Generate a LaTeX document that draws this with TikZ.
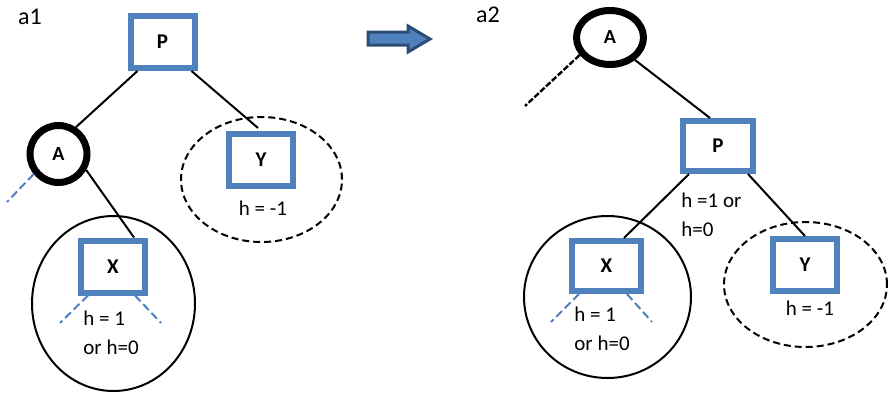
\documentclass[tikz,border=0pt]{standalone}
\usepackage{fontspec}
\setmainfont{Carlito}
\usepackage{tikz}
\usetikzlibrary{shapes.geometric}
\definecolor{cBox}{HTML}{4F81BD}
\definecolor{cShift}{HTML}{2C4D75}
\tikzset{
  keybox/.style={draw=cBox, line width=3pt, fill=white, inner sep=0pt,
                 minimum width=32pt, minimum height=26pt,
                 font=\bfseries\fontsize{10.5}{12}\selectfont},
  pivot/.style={draw, line width=3.5pt, fill=white, inner sep=0pt,
                font=\bfseries\fontsize{10}{12}\selectfont},
  hull/.style={draw, ellipse, line width=1pt, inner sep=0pt},
  maybe/.style={hull, dash pattern=on 3.5pt off 2pt},
  edge/.style={line width=1pt},
  stub/.style={draw=cBox, line width=1pt, dash pattern=on 4pt off 2pt},
  hlbl/.style={font=\fontsize{10.5}{14.5}\selectfont, align=left, inner sep=0pt},
  tag/.style={font=\fontsize{12}{14}\selectfont, inner sep=0pt},
}
\begin{document}
\begin{tikzpicture}[x=0.5pt, y=-0.5pt]
  \useasboundingbox (0,0) rectangle (896,402);
  % before the rotation
  \node[tag] (a1) at (30,17) {a1};
  \node[maybe, minimum width=80.5pt, minimum height=62.5pt] (hullYL) at (261.5,179.5) {};
  \node[hull, minimum width=81.5pt, minimum height=87.5pt] (hullXL) at (113.5,303.5) {};
  \node[keybox] (pL) at (162.5,42) {P};
  \node[pivot, circle, minimum size=28.5pt] (aL) at (58.5,154) {A};
  \node[keybox] (yL) at (261,160) {Y};
  \node[keybox] (xL) at (113,266.5) {X};
  \coordinate (aLstub) at (7,202);
  \coordinate (xLstubl) at (60,323);
  \coordinate (xLstubr) at (161,323);
  \draw[edge] ([xshift=5pt]pL.south west) -- (aL.57);
  \draw[edge] ([xshift=-3pt]pL.south east) -- ([xshift=-1.5pt,yshift=1.5pt]yL.north);
  \draw[edge] (aL.-30) -- ([xshift=-7pt]xL.north east);
  \draw[stub] (aL.219) -- (aLstub);
  \draw[stub] ([xshift=5pt]xL.south west) -- (xLstubl);
  \draw[stub] ([xshift=-6.5pt]xL.south east) -- (xLstubr);
  \node[hlbl] (hYL) at (263,208) {h = -1};
  \node[hlbl, anchor=west] (hXL) at (83,332.5) {h = 1\\or h=0};
  % rotation arrow
  \filldraw[fill=cBox, draw=cShift, line width=1.5pt, line join=miter]
    (368,32) -- (408,32) -- (408,26) -- (430,39) -- (408,52) -- (408,45) -- (368,45) -- cycle;
  % after the rotation
  \node[tag] (a2) at (488,15) {a2};
  \node[hull, minimum width=83.5pt, minimum height=81pt] (hullXR) at (607.5,297) {};
  \node[maybe, minimum width=81.5pt, minimum height=62.5pt] (hullYR) at (805.5,284.5) {};
  \node[pivot, ellipse, minimum width=33.5pt, minimum height=27pt] (aR) at (610,37.5) {A};
  \node[keybox, minimum width=35pt, minimum height=25pt] (pR) at (718,146) {P};
  \node[keybox, minimum width=34.5pt, minimum height=25pt] (xR) at (606.5,266) {X};
  \node[keybox] (yR) at (805,265) {Y};
  \coordinate (aRstub) at (525,106);
  \coordinate (xRstubl) at (551,322);
  \coordinate (xRstubr) at (652,322);
  \draw[edge, dash pattern=on 3pt off 1pt, line width=1.2pt] (aR.210) -- (aRstub);
  \draw[edge] (aR.-42) -- ([xshift=-4pt]pR.north);
  \draw[edge] ([xshift=4.5pt]pR.south west) -- ([xshift=-10pt]xR.north east);
  \draw[edge] ([xshift=-4pt]pR.south east) -- (yR.north);
  \draw[stub] ([xshift=5pt]xR.south west) -- (xRstubl);
  \draw[stub] ([xshift=-8.5pt]xR.south east) -- (xRstubr);
  \node[hlbl, anchor=west] (hPR) at (681,215) {h =1 or\\h=0};
  \node[hlbl, anchor=west] (hXR) at (574,328.5) {h = 1\\or h=0};
  \node[hlbl] (hYR) at (810,308) {h = -1};
\end{tikzpicture}
\end{document}
